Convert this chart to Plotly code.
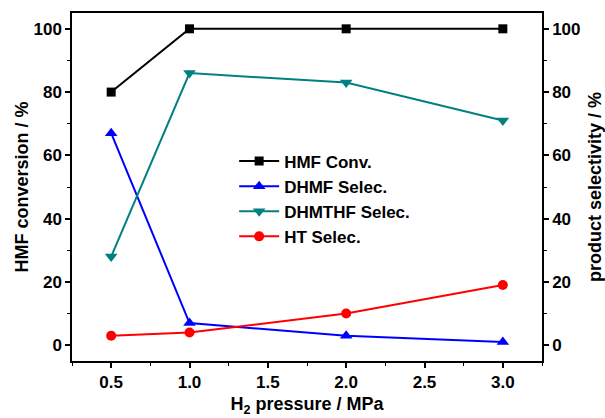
import plotly.graph_objects as go

pressure = [0.5, 1.0, 2.0, 3.0]
hmf_conv = [80, 100, 100, 100]
dhmf_sel = [67, 7, 3, 1]
dhmthf_sel = [28, 86, 83, 71]
ht_sel = [3, 4, 10, 19]

x_ticks = [0.5, 1.0, 1.5, 2.0, 2.5, 3.0]
y_ticks = [0, 20, 40, 60, 80, 100]

FONT = "Liberation Sans, Arial, sans-serif"

fig = go.Figure()
fig.add_trace(go.Scatter(x=pressure, y=hmf_conv, name="HMF Conv.", mode="lines+markers",
                         line=dict(color="black", width=2),
                         marker=dict(symbol="square", size=9, color="black")))
fig.add_trace(go.Scatter(x=pressure, y=dhmf_sel, name="DHMF Selec.", mode="lines+markers",
                         line=dict(color="#0000ff", width=2), yaxis="y2",
                         marker=dict(symbol="triangle-up", size=11, color="#0000ff")))
fig.add_trace(go.Scatter(x=pressure, y=dhmthf_sel, name="DHMTHF Selec.", mode="lines+markers",
                         line=dict(color="#008080", width=2), yaxis="y2",
                         marker=dict(symbol="triangle-down", size=11, color="#008080")))
fig.add_trace(go.Scatter(x=pressure, y=ht_sel, name="HT Selec.", mode="lines+markers",
                         line=dict(color="#ff0000", width=2), yaxis="y2",
                         marker=dict(symbol="circle", size=10, color="#ff0000")))

tickfont = dict(family=FONT, size=17, color="black", weight="bold")
titlefont = dict(family=FONT, size=18, color="black", weight="bold")

fig.update_layout(
    width=605, height=418,
    margin=dict(l=72, r=63, t=13, b=57, autoexpand=False),
    paper_bgcolor="white", plot_bgcolor="white",
    showlegend=True,
    legend=dict(x=0.345, y=0.625, xanchor="left", yanchor="top",
                font=dict(family=FONT, size=17, color="black", weight="bold"),
                bgcolor="rgba(0,0,0,0)", tracegroupgap=0, itemwidth=40),
    xaxis=dict(range=[0.25, 3.25], tickvals=x_ticks, ticktext=[f"{v:.1f}" for v in x_ticks],
               showgrid=False, zeroline=False, showline=True, linecolor="black", linewidth=1.5,
               mirror=True, ticks="outside", ticklen=5, tickwidth=1.5, tickcolor="black",
               minor=dict(dtick=0.25, tick0=0.25, ticks="outside", ticklen=3, tickwidth=1.2, tickcolor="black"),
               tickfont=tickfont, automargin=False,
               title=dict(text="H<sub>2</sub> pressure / MPa", font=titlefont, standoff=6)),
    yaxis=dict(range=[-5, 105], tickvals=y_ticks, showgrid=False, zeroline=False,
               showline=True, linecolor="black", linewidth=1.5, mirror=True,
               ticks="outside", ticklen=5, tickwidth=1.5, tickcolor="black",
               minor=dict(dtick=10, tick0=0, ticks="outside", ticklen=3, tickwidth=1.2, tickcolor="black"),
               tickfont=tickfont, automargin=False,
               title=dict(text="HMF conversion / %", font=titlefont, standoff=0)),
    yaxis2=dict(range=[-5, 105], tickvals=y_ticks, overlaying="y", side="right",
                showgrid=False, zeroline=False, showline=True, linecolor="black", linewidth=1.5,
                ticks="outside", ticklen=5, tickwidth=1.5, tickcolor="black",
                minor=dict(dtick=10, tick0=0, ticks="outside", ticklen=3, tickwidth=1.2, tickcolor="black"),
                tickfont=tickfont, automargin=False,
                title=dict(text="product selectivity / %", font=titlefont, standoff=10)),
)

fig.write_html("out.html")
